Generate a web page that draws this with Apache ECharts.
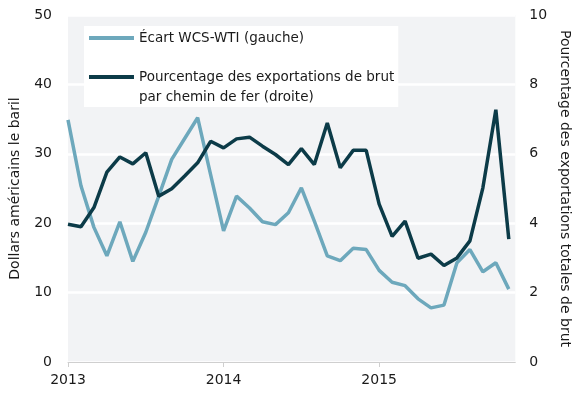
<!DOCTYPE html>
<html>
<head>
<meta charset="utf-8">
<script src="https://cdn.jsdelivr.net/npm/echarts@6/dist/echarts.min.js"></script>
<style>
html,body{margin:0;padding:0;background:#fff;}
#chart{width:580px;height:393px;}
</style>
</head>
<body>
<div id="chart"></div>
<script>
// Monthly observations, Jan 2013 – Nov 2015
var months = ['2013-01','2013-02','2013-03','2013-04','2013-05','2013-06','2013-07','2013-08','2013-09','2013-10','2013-11','2013-12',
              '2014-01','2014-02','2014-03','2014-04','2014-05','2014-06','2014-07','2014-08','2014-09','2014-10','2014-11','2014-12',
              '2015-01','2015-02','2015-03','2015-04','2015-05','2015-06','2015-07','2015-08','2015-09','2015-10','2015-11'];
// WCS-WTI spread, US$ per barrel (left axis)
var spread = [34.9, 25.4, 19.4, 15.3, 20.2, 14.5, 18.7, 23.9, 29.2, 32.2, 35.2, 27.0,
              18.9, 23.9, 22.2, 20.2, 19.8, 21.5, 25.1, 20.3, 15.3, 14.6, 16.4, 16.2,
              13.2, 11.5, 11.0, 9.1, 7.8, 8.2, 14.3, 16.2, 13.0, 14.3, 10.5];
// Share of crude exports by rail, % (right axis)
var railShare = [3.97, 3.90, 4.45, 5.47, 5.91, 5.71, 6.03, 4.78, 4.99, 5.36, 5.74, 6.36,
                 6.17, 6.43, 6.48, 6.22, 5.98, 5.69, 6.15, 5.69, 6.89, 5.60, 6.10, 6.10,
                 4.55, 3.62, 4.06, 2.99, 3.11, 2.78, 3.00, 3.49, 5.02, 7.27, 3.54];
var yearTicks = ['2013', '2014', '2015'];
var seriesNames = ['Écart WCS-WTI (gauche)', 'Pourcentage des exportations de brut\npar chemin de fer (droite)'];
var leftAxisName = 'Dollars américains le baril';
var rightAxisName = 'Pourcentage des exportations totales de brut';

function monthIndex(m) {
  var p = m.split('-');
  return (parseInt(p[0], 10) - 2013) * 12 + (parseInt(p[1], 10) - 1);
}
var yearTickValues = yearTicks.map(function (y) { return (parseInt(y, 10) - 2013) * 12; });

var FONT = 'DejaVu Sans';
var TXT = '#1a1a1a';
var chart = echarts.init(document.getElementById('chart'), null, {renderer: 'canvas'});
chart.setOption({
  animation: false,
  textStyle: {fontFamily: FONT},
  grid: {left: 65, right: 55, top: 15, bottom: 31, show: true, backgroundColor: '#f2f3f5', borderWidth: 0},
  legend: {
    orient: 'vertical', left: 84, top: 26,
    backgroundColor: '#ffffff',
    padding: [0, 4, 0, 5],
    itemWidth: 45, itemHeight: 24, itemGap: 17,
    textStyle: {fontFamily: FONT, fontSize: 13.5, color: TXT, lineHeight: 20},
    data: [
      {name: seriesNames[0], icon: 'path://M0,10H45V14H0Z M0,0h0.01v0.01h-0.01Z M0,24h0.01v0.01h-0.01Z'},
      {name: seriesNames[1], icon: 'path://M0,0H45V4H0Z M0,24h0.01v0.01h-0.01Z'}
    ]
  },
  xAxis: {
    type: 'value', min: 0, max: 34.5,
    axisLine: {show: true, lineStyle: {color: '#cfcfcf', width: 1}},
    axisTick: {show: true, length: 5, lineStyle: {color: '#cfcfcf'}, customValues: yearTickValues},
    axisLabel: {customValues: yearTickValues, margin: 11, fontSize: 14, color: TXT, fontFamily: FONT,
      formatter: function (v) { return String(2013 + Math.round(v / 12)); }},
    splitLine: {show: false}
  },
  yAxis: [
    {
      type: 'value', min: 0, max: 50, interval: 10, position: 'left',
      name: leftAxisName, nameLocation: 'middle', nameGap: 46,
      nameTextStyle: {fontFamily: FONT, fontSize: 14, color: TXT},
      axisLine: {show: false}, axisTick: {show: false},
      axisLabel: {margin: 16, fontSize: 14, color: TXT, fontFamily: FONT},
      splitLine: {show: true, lineStyle: {color: '#ffffff', width: 2.5}}
    },
    {
      type: 'value', min: 0, max: 10, interval: 2, position: 'right',
      name: rightAxisName, nameLocation: 'middle', nameGap: 37, nameRotate: -90,
      nameTextStyle: {fontFamily: FONT, fontSize: 14, color: TXT},
      axisLine: {show: false}, axisTick: {show: false},
      axisLabel: {margin: 14, fontSize: 14, color: TXT, fontFamily: FONT},
      splitLine: {show: false}
    }
  ],
  series: [
    {
      name: seriesNames[0], type: 'line', yAxisIndex: 0, showSymbol: false,
      lineStyle: {color: '#6da8bc', width: 3.5}, itemStyle: {color: '#6da8bc'},
      data: months.map(function (m, i) { return [monthIndex(m), spread[i]]; })
    },
    {
      name: seriesNames[1], type: 'line', yAxisIndex: 1, showSymbol: false,
      lineStyle: {color: '#0c3b48', width: 3.5}, itemStyle: {color: '#0c3b48'},
      data: months.map(function (m, i) { return [monthIndex(m), railShare[i]]; })
    }
  ]
});
</script>
</body>
</html>
